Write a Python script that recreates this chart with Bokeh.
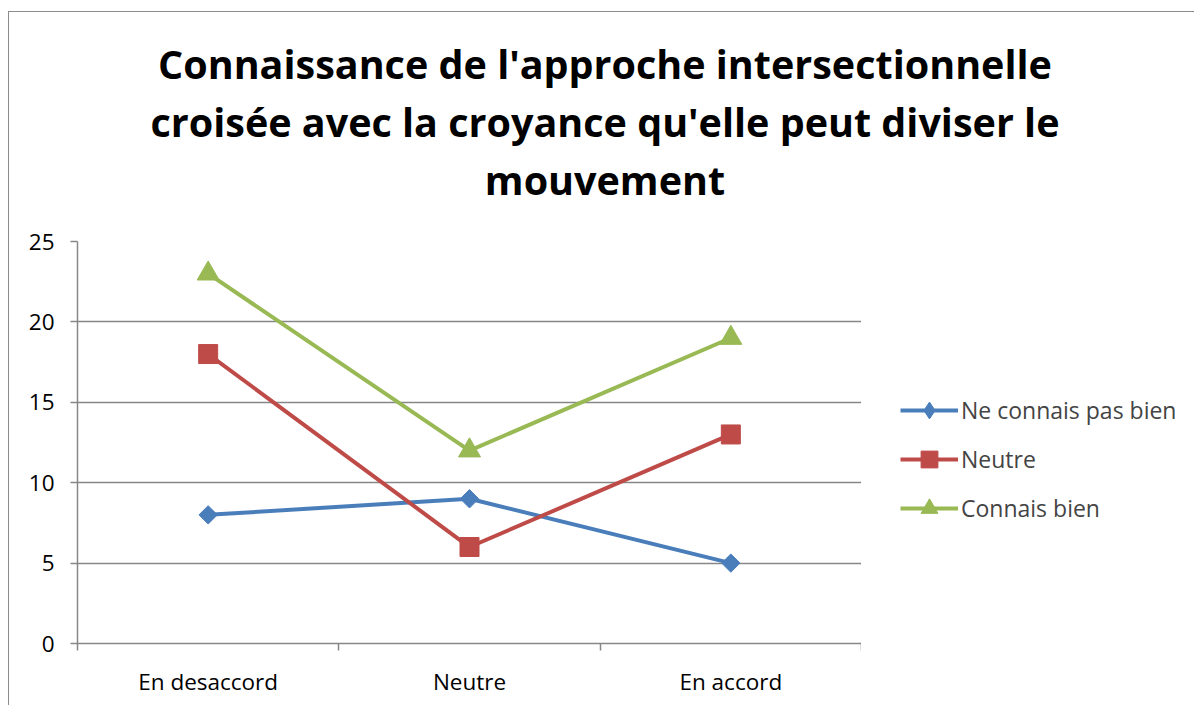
import math
from bokeh.plotting import figure
from bokeh.models import Range1d, FixedTicker, Legend, LegendItem, Div
from bokeh.layouts import column, row
from bokeh.embed import file_html
from bokeh.resources import INLINE

categories = ["En desaccord", "Neutre", "En accord"]
ne_connais_pas_bien = [8, 9, 5]
neutre = [18, 6, 13]
connais_bien = [23, 12, 19]
series_names = ["Ne connais pas bien", "Neutre", "Connais bien"]
title_lines = ["Connaissance de l'approche intersectionnelle",
               "croisée avec la croyance qu'elle peut diviser le",
               "mouvement"]
y_ticks = [0, 5, 10, 15, 20, 25]

W = 1185
TITLE_H = 200
H = 693 - TITLE_H
PW = 852
LW = W - PW
GRAY = "#878787"
FONT = "Open Sans"

title = Div(text='<div style="padding-top:23px;padding-left:7px">' + "<br>".join(title_lines) + "</div>",
            width=W, height=TITLE_H, margin=0,
            styles={"text-align": "center", "font-family": FONT,
                    "font-weight": "bold", "font-size": "39.5px",
                    "line-height": "58px", "color": "#000000",
                    "height": f"{TITLE_H}px", "overflow": "visible"})

p = figure(width=PW, height=H, output_backend="svg", toolbar_location=None,
           x_range=Range1d(0, len(categories)), y_range=Range1d(0, 25),
           min_border_left=68, min_border_right=0, min_border_top=29,
           min_border_bottom=62, outline_line_color=None)

xs = [i + 0.5 for i in range(len(categories))]

# axes
p.xaxis.ticker = FixedTicker(ticks=xs, minor_ticks=list(range(len(categories) + 1)))
p.xaxis.major_label_overrides = {x: c for x, c in zip(xs, categories)}
p.xaxis.major_tick_line_color = None
p.xaxis.minor_tick_line_color = GRAY
p.xaxis.minor_tick_out = 7
p.xaxis.minor_tick_in = 0
p.xaxis.minor_tick_line_width = 1.5
p.xaxis.axis_line_color = GRAY
p.xaxis.axis_line_width = 1.5
p.xaxis.major_label_standoff = 15
p.xaxis.major_label_text_font = FONT
p.xaxis.major_label_text_font_size = "22.5px"
p.xaxis.major_label_text_color = "#000000"

p.yaxis.ticker = FixedTicker(ticks=y_ticks)
p.yaxis.major_tick_line_color = GRAY
p.yaxis.major_tick_line_width = 1.5
p.yaxis.major_tick_out = 7
p.yaxis.major_tick_in = 0
p.yaxis.minor_tick_line_color = None
p.yaxis.axis_line_color = GRAY
p.yaxis.axis_line_width = 1.5
p.yaxis.major_label_standoff = 16
p.yaxis.major_label_text_font = FONT
p.yaxis.major_label_text_font_size = "22.5px"
p.yaxis.major_label_text_color = "#000000"

p.xgrid.grid_line_color = None
p.ygrid.ticker = FixedTicker(ticks=y_ticks)
p.ygrid.grid_line_color = GRAY
p.ygrid.grid_line_width = 1.5

colors = ["#4a7ebb", "#be4b48", "#98b954"]
# in the plot the diamond is a square turned by 45 degrees (Excel-style diamond)
markers = ["square", "square", "triangle"]
angles = [math.pi / 4, 0, 0]
sizes = [13, 19, 22]
legend_markers = ["diamond", "square", "triangle"]
data = [ne_connais_pas_bien, neutre, connais_bien]

# legend lives in its own small figure so that it is not clipped by the main frame;
# its glyphs use the same data, kept outside that figure's visible range
lg = figure(width=LW, height=H, output_backend="svg", toolbar_location=None,
            x_axis_location=None, y_axis_location=None,
            x_range=Range1d(-2, -1), y_range=Range1d(-2, -1),
            min_border=0, outline_line_color=None)
lg.xgrid.grid_line_color = None
lg.ygrid.grid_line_color = None

items = []
for name, vals, c, m, a, s, lm in zip(series_names, data, colors, markers, angles, sizes, legend_markers):
    p.line(xs, vals, line_color=c, line_width=4)
    p.scatter(xs, vals, marker=m, angle=a, size=s, fill_color=c, line_color=c)
    ll = lg.line(xs, vals, line_color=c, line_width=4)
    ls = lg.scatter(xs, vals, marker=lm, size=s, fill_color=c, line_color=c)
    items.append(LegendItem(label=name, renderers=[ll, ls]))

legend = Legend(items=items, location=(39, 114), orientation="vertical",
                glyph_width=58, glyph_height=42, label_height=42,
                spacing=7, padding=0, margin=0, label_standoff=3,
                label_text_font=FONT, label_text_font_size="23px",
                label_text_baseline="middle",
                border_line_color=None, background_fill_alpha=0)
lg.add_layout(legend, "center")

layout = column(title, row(p, lg, spacing=0), spacing=0,
                styles={"margin-left": "8px", "margin-top": "11px",
                        "border-left": "1px solid #8c8c8c",
                        "border-top": "1px solid #8c8c8c"})

open("out.html", "w").write(file_html(layout, INLINE))
